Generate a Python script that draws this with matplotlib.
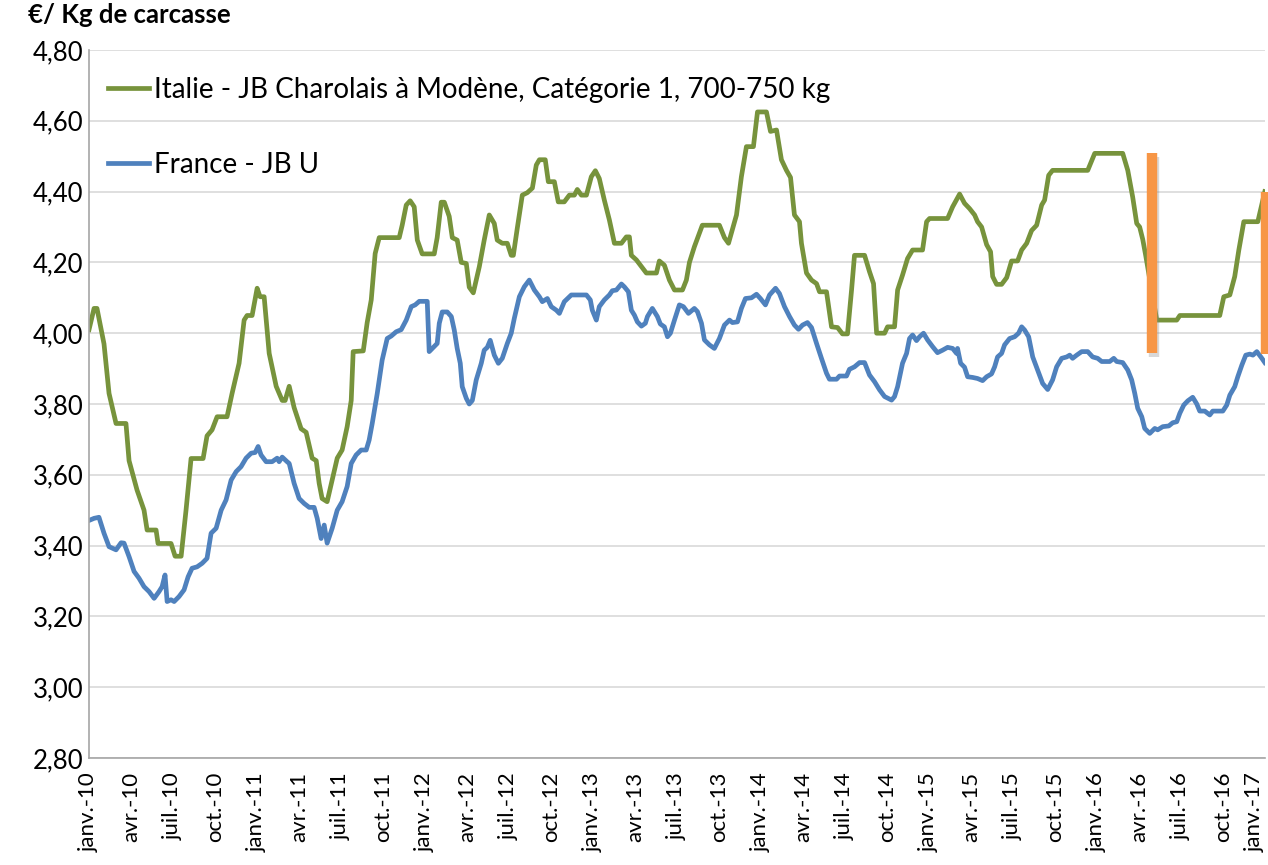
import numpy as np
import matplotlib
matplotlib.use("Agg")
from matplotlib import pyplot as plt
from matplotlib import patheffects as pe

plt.rcParams['font.family'] = ['Lato', 'DejaVu Sans']

# months counted from janv.-10
italie_mois = [0.00, 0.36, 0.57, 1.07, 1.43, 1.93, 2.64, 2.86, 3.43, 3.93, 4.15, 4.79, 4.93, 5.86,
               6.15, 6.58, 6.93, 7.29, 8.15, 8.43, 8.79, 9.15, 9.86, 10.22, 10.72, 11.08, 11.29,
               11.65, 12.01, 12.22, 12.51, 12.87, 13.37, 13.80, 14.01, 14.30, 14.65, 15.15, 15.51,
               15.94, 16.23, 16.44, 16.65, 17.01, 17.37, 17.73, 18.08, 18.44, 18.73, 18.87, 19.59,
               19.87, 20.16, 20.44, 20.73, 22.16, 22.37, 22.66, 22.94, 23.23, 23.45, 23.80, 24.66,
               24.87, 25.16, 25.38, 25.73, 25.95, 26.30, 26.59, 26.95, 27.16, 27.45, 27.88, 28.23,
               28.59, 28.95, 29.16, 29.52, 29.88, 30.16, 30.31, 30.59, 30.95, 31.31, 31.67, 31.95,
               32.17, 32.59, 32.81, 33.24, 33.52, 33.95, 34.31, 34.67, 34.88, 35.17, 35.53, 35.88,
               36.17, 36.45, 36.81, 37.17, 37.53, 38.03, 38.38, 38.60, 38.74, 39.10, 39.46, 39.81,
               40.53, 40.74, 41.10, 41.46, 41.82, 42.39, 42.67, 42.89, 43.24, 43.81, 45.03, 45.39,
               45.68, 46.25, 46.60, 46.96, 47.46, 47.75, 48.39, 48.68, 49.11, 49.46, 49.82, 50.11,
               50.39, 50.75, 50.89, 51.25, 51.61, 51.97, 52.18, 52.68, 53.04, 53.47, 53.82, 54.18,
               54.47, 54.68, 55.40, 55.75, 56.04, 56.26, 56.83, 57.04, 57.54, 57.76, 58.11, 58.47,
               58.83, 59.54, 59.83, 60.04, 61.33, 61.69, 62.19, 62.54, 62.90, 63.26, 63.47, 63.76,
               64.12, 64.40, 64.55, 64.83, 65.19, 65.55, 65.90, 66.33, 66.62, 66.98, 67.33, 67.69,
               68.05, 68.26, 68.55, 68.83, 71.34, 71.84, 73.84, 74.20, 74.55, 74.84, 75.05, 75.27,
               75.48, 76.27, 77.70, 77.92, 80.77, 81.06, 81.49, 81.84, 82.13, 82.49, 83.49, 83.99]
italie_prix = [4.01, 4.07, 4.07, 3.97, 3.83, 3.745, 3.745, 3.64, 3.557, 3.50, 3.444, 3.444, 3.406, 3.406,
               3.37, 3.37, 3.50, 3.646, 3.646, 3.71, 3.727, 3.764, 3.764, 3.83, 3.915, 4.037, 4.05,
               4.05, 4.127, 4.103, 4.103, 3.943, 3.85, 3.81, 3.81, 3.85, 3.79, 3.73, 3.72,
               3.647, 3.64, 3.576, 3.533, 3.524, 3.585, 3.647, 3.67, 3.736, 3.81, 3.948, 3.95,
               4.03, 4.094, 4.225, 4.27, 4.27, 4.305, 4.362, 4.374, 4.357, 4.263, 4.224, 4.224,
               4.27, 4.37, 4.37, 4.33, 4.27, 4.263, 4.20, 4.197, 4.13, 4.114, 4.188, 4.263,
               4.334, 4.31, 4.263, 4.254, 4.254, 4.22, 4.22, 4.296, 4.39, 4.397, 4.41, 4.475,
               4.49, 4.49, 4.428, 4.428, 4.371, 4.371, 4.39, 4.39, 4.406, 4.39, 4.39, 4.442,
               4.459, 4.437, 4.376, 4.32, 4.254, 4.254, 4.272, 4.272, 4.22, 4.207, 4.188, 4.17,
               4.17, 4.204, 4.192, 4.15, 4.122, 4.122, 4.15, 4.20, 4.244, 4.305, 4.305, 4.27,
               4.254, 4.334, 4.442, 4.527, 4.527, 4.625, 4.625, 4.57, 4.574, 4.49, 4.46, 4.44,
               4.334, 4.315, 4.254, 4.17, 4.15, 4.14, 4.117, 4.117, 4.018, 4.016, 3.998, 3.998,
               4.122, 4.22, 4.22, 4.174, 4.14, 4.00, 4.00, 4.018, 4.018, 4.122, 4.164, 4.211,
               4.235, 4.235, 4.315, 4.324, 4.324, 4.357, 4.393, 4.367, 4.352, 4.334, 4.315, 4.30,
               4.25, 4.23, 4.16, 4.138, 4.138, 4.157, 4.204, 4.204, 4.235, 4.254, 4.29, 4.305,
               4.362, 4.376, 4.446, 4.46, 4.46, 4.508, 4.508, 4.46, 4.385, 4.31, 4.30, 4.265,
               4.22, 4.037, 4.037, 4.05, 4.05, 4.103, 4.108, 4.16, 4.234, 4.315, 4.315, 4.40]

france_mois = [0.00, 0.36, 0.71, 1.07, 1.43, 1.93, 2.29, 2.50, 2.86, 3.22, 3.57, 3.93, 4.29, 4.65,
               5.00, 5.22, 5.43, 5.58, 5.86, 6.08, 6.43, 6.79, 7.08, 7.36, 7.72, 8.08, 8.43, 8.72,
               9.08, 9.44, 9.79, 10.15, 10.51, 10.86, 11.22, 11.58, 11.87, 12.08, 12.29, 12.65,
               13.08, 13.44, 13.58, 13.80, 14.15, 14.30, 14.65, 15.01, 15.37, 15.73, 16.08, 16.30,
               16.58, 16.80, 17.01, 17.37, 17.73, 18.08, 18.44, 18.73, 19.08, 19.44, 19.80, 20.01,
               20.23, 20.59, 20.94, 21.30, 21.59, 21.94, 22.30, 22.66, 23.02, 23.30, 23.59, 24.16,
               24.30, 24.52, 24.87, 25.02, 25.23, 25.59, 25.88, 26.09, 26.30, 26.52, 26.66, 26.95,
               27.16, 27.38, 27.66, 28.02, 28.23, 28.45, 28.66, 28.95, 29.24, 29.52, 29.88, 30.16,
               30.38, 30.74, 31.09, 31.45, 31.81, 32.17, 32.38, 32.74, 33.02, 33.38, 33.60, 33.95,
               34.45, 35.53, 35.81, 35.95, 36.24, 36.45, 36.81, 37.17, 37.38, 37.67, 38.03, 38.24,
               38.53, 38.74, 38.96, 39.17, 39.46, 39.74, 39.89, 40.24, 40.60, 40.81, 41.10, 41.32,
               41.53, 41.82, 42.17, 42.46, 42.82, 43.24, 43.46, 43.75, 43.96, 44.32, 44.67, 45.03,
               45.39, 45.75, 45.96, 46.32, 46.60, 46.89, 47.32, 47.68, 47.96, 48.32, 48.61, 49.04,
               49.32, 49.68, 50.04, 50.39, 50.68, 50.97, 51.32, 51.61, 51.97, 52.32, 52.68, 52.89,
               53.40, 53.61, 54.11, 54.32, 54.68, 55.04, 55.40, 55.75, 56.11, 56.47, 56.83, 57.33,
               57.54, 57.76, 58.11, 58.40, 58.61, 58.83, 59.11, 59.33, 59.61, 59.90, 60.26, 60.61,
               60.97, 61.33, 61.69, 61.97, 62.04, 62.26, 62.54, 62.76, 63.12, 63.47, 63.83, 64.12,
               64.47, 64.69, 64.90, 65.19, 65.40, 65.76, 66.12, 66.40, 66.62, 66.83, 67.12, 67.41,
               67.76, 68.12, 68.48, 68.83, 69.12, 69.48, 69.84, 70.05, 70.26, 70.55, 70.91, 71.34,
               71.69, 72.05, 72.34, 72.91, 73.20, 73.41, 73.84, 74.20, 74.48, 74.70, 74.91, 75.20,
               75.41, 75.77, 76.13, 76.34, 76.70, 77.13, 77.41, 77.70, 77.92, 78.20, 78.49, 78.84,
               79.13, 79.34, 79.70, 80.06, 80.27, 80.99, 81.27, 81.49, 81.84, 82.06, 82.35, 82.63,
               82.92, 83.14, 83.42, 83.78, 83.99]
france_prix = [3.471, 3.477, 3.48, 3.435, 3.397, 3.388, 3.408, 3.407, 3.369, 3.327, 3.308, 3.284, 3.27, 3.251,
               3.27, 3.284, 3.317, 3.242, 3.247, 3.242, 3.256, 3.275, 3.312, 3.336, 3.34, 3.35, 3.364, 3.435,
               3.449, 3.50, 3.529, 3.585, 3.609, 3.623, 3.647, 3.661, 3.663, 3.68, 3.656, 3.637,
               3.637, 3.647, 3.637, 3.65, 3.637, 3.632, 3.576, 3.533, 3.519, 3.508, 3.508, 3.477,
               3.42, 3.458, 3.407, 3.449, 3.50, 3.524, 3.567, 3.632, 3.656, 3.67, 3.67, 3.698,
               3.745, 3.83, 3.924, 3.985, 3.992, 4.004, 4.01, 4.037, 4.075, 4.08, 4.09, 4.09,
               3.948, 3.957, 3.971, 4.028, 4.06, 4.06, 4.047, 4.009, 3.957, 3.915, 3.849, 3.816,
               3.80, 3.81, 3.868, 3.915, 3.952, 3.96, 3.98, 3.938, 3.915, 3.929, 3.971, 4.0,
               4.042, 4.103, 4.131, 4.15, 4.122, 4.103, 4.089, 4.098, 4.075, 4.065, 4.056, 4.089,
               4.108, 4.108, 4.094, 4.065, 4.037, 4.075, 4.094, 4.108, 4.12, 4.122, 4.139, 4.131,
               4.117, 4.065, 4.051, 4.032, 4.02, 4.028, 4.047, 4.07, 4.047, 4.026, 4.018, 3.99,
               4.0, 4.037, 4.08, 4.075, 4.056, 4.07, 4.061, 4.028, 3.981, 3.967, 3.957, 3.985,
               4.023, 4.037, 4.03, 4.032, 4.07, 4.098, 4.10, 4.11, 4.098, 4.08, 4.108, 4.127,
               4.112, 4.075, 4.047, 4.023, 4.011, 4.023, 4.03, 4.016, 3.971, 3.929, 3.887, 3.87,
               3.87, 3.879, 3.879, 3.898, 3.905, 3.917, 3.917, 3.882, 3.863, 3.84, 3.821, 3.811,
               3.821, 3.849, 3.915, 3.943, 3.985, 3.995, 3.979, 3.99, 4.0, 3.981, 3.962, 3.945,
               3.952, 3.96, 3.957, 3.943, 3.957, 3.915, 3.904, 3.877, 3.875, 3.872, 3.866, 3.877,
               3.885, 3.905, 3.933, 3.943, 3.967, 3.985, 3.99, 4.0, 4.018, 4.009, 3.99, 3.933,
               3.896, 3.858, 3.841, 3.868, 3.905, 3.929, 3.933, 3.938, 3.929, 3.938, 3.948, 3.948,
               3.933, 3.929, 3.92, 3.92, 3.929, 3.92, 3.917, 3.896, 3.868, 3.83, 3.788, 3.764,
               3.731, 3.717, 3.731, 3.727, 3.736, 3.738, 3.747, 3.75, 3.774, 3.797, 3.809, 3.819,
               3.80, 3.78, 3.78, 3.769, 3.78, 3.78, 3.797, 3.825, 3.849, 3.877, 3.91, 3.938,
               3.941, 3.938, 3.948, 3.929, 3.917]

mois_fr = ['janv.', 'avr.', 'juil.', 'oct.']
x_ticks = list(range(0, 85, 3))
x_labels = ['%s-%02d' % (mois_fr[(m // 3) % 4], 10 + m // 12) for m in x_ticks]
y_ticks = [2.8, 3.0, 3.2, 3.4, 3.6, 3.8, 4.0, 4.2, 4.4, 4.6, 4.8]

# orange highlight marks (month, bottom, top)
repere_mois = [75.91, 84.1]
repere_bas = [3.944, 3.94]
repere_haut = [4.51, 4.40]

vert = '#77933C'
bleu = '#4F81BD'
orange = '#F79646'

fig = plt.figure(figsize=(12.68, 8.65), dpi=100)
ax = fig.add_axes([0.0702, 0.1237, 0.9274, 0.8185])

ax.plot(italie_mois, italie_prix, color=vert, lw=3.4, solid_joinstyle='round',
        label='Italie - JB Charolais à Modène, Catégorie 1, 700-750 kg')
ax.plot(france_mois, france_prix, color=bleu, lw=3.4, solid_joinstyle='round',
        label='France - JB U')

for m, b, h in zip(repere_mois, repere_bas, repere_haut):
    ax.plot([m, m], [b, h], color=orange, lw=7.5, solid_capstyle='butt', clip_on=False,
            path_effects=[pe.SimpleLineShadow(offset=(2, -3), shadow_color='gray', alpha=0.3),
                          pe.Normal()])

ax.set_xlim(0, 84)
ax.set_ylim(2.8, 4.8)
ax.set_yticks(y_ticks)
ax.set_yticklabels([('%.2f' % v).replace('.', ',') for v in y_ticks], fontsize=18.5)
ax.set_xticks(x_ticks)
ax.set_xticklabels(x_labels, rotation=90, fontsize=16)
ax.get_xticklabels()[-1].set_horizontalalignment('right')
ax.tick_params(axis='both', length=0, colors='black')
ax.tick_params(axis='y', pad=4)
ax.tick_params(axis='x', pad=10)

ax.grid(axis='y', color='#d9d9d9', lw=1.2)
ax.set_axisbelow(True)
for s in ['top', 'right']:
    ax.spines[s].set_visible(False)
ax.spines['left'].set_color('#a6a6a6')
ax.spines['bottom'].set_color('#a6a6a6')
ax.spines['left'].set_linewidth(1.2)
ax.spines['bottom'].set_linewidth(1.2)

ax.legend(loc='upper left', bbox_to_anchor=(0.016, 0.962), frameon=False, fontsize=20,
          borderpad=0, borderaxespad=0, handlelength=1.5, handletextpad=0.18, labelspacing=1.75)

fig.text(0.022, 0.997, '€/ Kg de carcasse', fontsize=18.5, fontweight='bold', va='top', ha='left')

fig.savefig('out.png', dpi=100)
